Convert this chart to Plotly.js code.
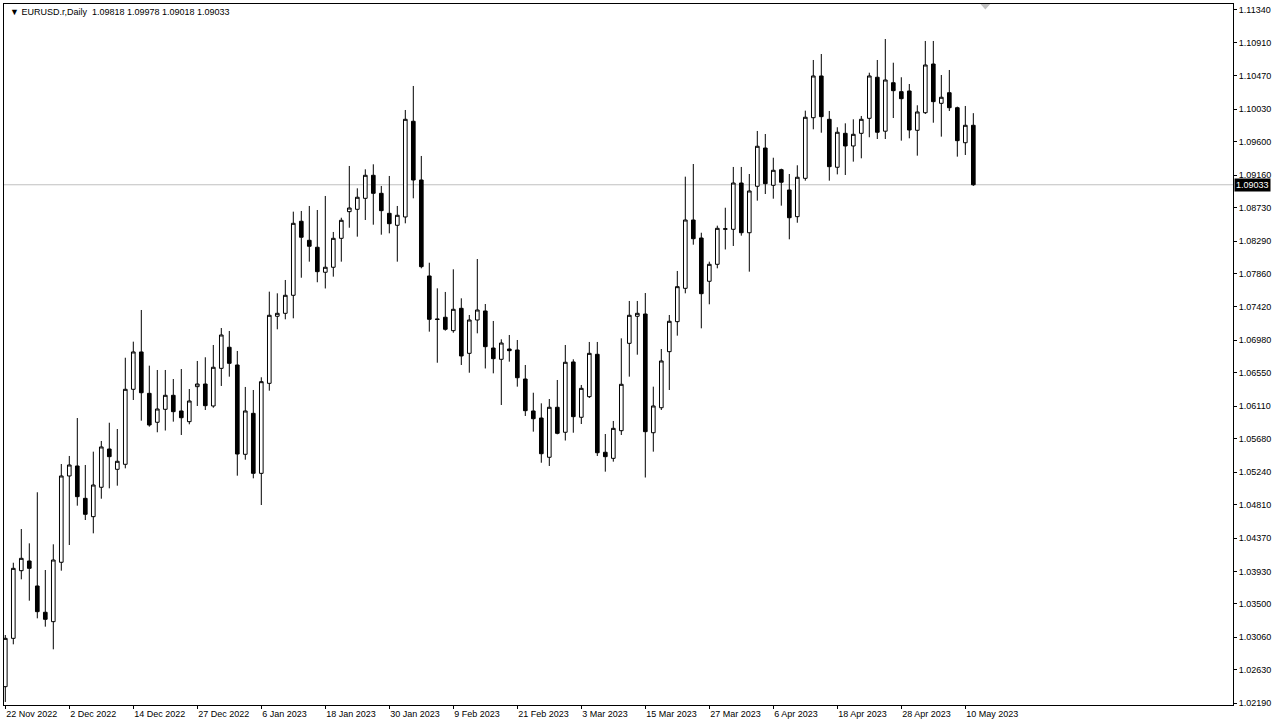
<!DOCTYPE html>
<html><head><meta charset="utf-8">
<script src="https://cdn.plot.ly/plotly-3.0.1.min.js"></script>
<style>html,body{margin:0;padding:0;background:#fff;}#chart{width:1280px;height:728px;}</style>
</head><body><div id="chart"></div>
<script>
const symbolTitle = "\u25BC EURUSD.r,Daily  1.09818 1.09978 1.09018 1.09033";

const dates = [
"2022-11-22","2022-11-23","2022-11-24","2022-11-25","2022-11-28","2022-11-29","2022-11-30","2022-12-01","2022-12-02",
"2022-12-05","2022-12-06","2022-12-07","2022-12-08","2022-12-09","2022-12-12","2022-12-13","2022-12-14","2022-12-15","2022-12-16",
"2022-12-19","2022-12-20","2022-12-21","2022-12-22","2022-12-23","2022-12-27","2022-12-28","2022-12-29","2022-12-30",
"2023-01-02","2023-01-03","2023-01-04","2023-01-05","2023-01-06","2023-01-09","2023-01-10","2023-01-11","2023-01-12","2023-01-13",
"2023-01-16","2023-01-17","2023-01-18","2023-01-19","2023-01-20","2023-01-23","2023-01-24","2023-01-25","2023-01-26","2023-01-27",
"2023-01-30","2023-01-31","2023-02-01","2023-02-02","2023-02-03","2023-02-06","2023-02-07","2023-02-08","2023-02-09","2023-02-10",
"2023-02-13","2023-02-14","2023-02-15","2023-02-16","2023-02-17","2023-02-20","2023-02-21","2023-02-22","2023-02-23","2023-02-24",
"2023-02-27","2023-02-28","2023-03-01","2023-03-02","2023-03-03","2023-03-06","2023-03-07","2023-03-08","2023-03-09","2023-03-10",
"2023-03-13","2023-03-14","2023-03-15","2023-03-16","2023-03-17","2023-03-20","2023-03-21","2023-03-22","2023-03-23","2023-03-24",
"2023-03-27","2023-03-28","2023-03-29","2023-03-30","2023-03-31","2023-04-03","2023-04-04","2023-04-05","2023-04-06","2023-04-07",
"2023-04-10","2023-04-11","2023-04-12","2023-04-13","2023-04-14","2023-04-17","2023-04-18","2023-04-19","2023-04-20","2023-04-21",
"2023-04-24","2023-04-25","2023-04-26","2023-04-27","2023-04-28","2023-05-01","2023-05-02","2023-05-03","2023-05-04","2023-05-05",
"2023-05-08","2023-05-09","2023-05-10","2023-05-11"
];

const openP = [
1.02408,1.03046,1.03939,1.04067,1.03737,1.03390,1.03266,1.04050,1.05189,1.05321,
1.04894,1.04652,1.05040,1.05545,1.05277,1.05343,1.06333,1.06826,1.06280,1.05898,
1.06069,1.06254,1.06047,1.05906,1.06368,1.06403,1.06113,1.06610,1.06888,1.06654,
1.05475,1.06016,1.05224,1.06412,1.07297,1.07336,1.07574,1.08551,1.08300,1.08208,
1.07878,1.07944,1.08326,1.08678,1.08709,1.08854,1.09158,1.08920,1.08656,1.08498,
1.08608,1.09871,1.09096,1.07829,1.07262,1.07284,1.07107,1.07402,1.06808,1.07248,
1.07367,1.06878,1.06729,1.06865,1.06852,1.06469,1.06047,1.05954,1.05436,1.06096,
1.05766,1.06694,1.05964,1.06236,1.06795,1.05502,1.05422,1.05787,1.06940,1.07297,
1.07327,1.05760,1.06090,1.06830,1.07226,1.07666,1.08568,1.08330,1.07759,1.07983,
1.08445,1.08445,1.09056,1.08400,1.09013,1.09518,1.09026,1.09232,1.08964,1.08612,
1.09118,1.09918,1.10469,1.09897,1.09264,1.09712,1.09545,1.09712,1.09910,1.10452,
1.09740,1.10380,1.10262,1.10271,1.09752,1.09984,1.10627,1.10108,1.10248,1.10050,
1.09588,1.09818
];

const highP = [
1.03090,1.04044,1.04489,1.04300,1.04974,1.03948,1.04287,1.05347,1.05453,1.05954,
1.05334,1.05510,1.05651,1.05892,1.05809,1.06750,1.06962,1.07380,1.06645,1.06588,
1.06588,1.06469,1.06601,1.06337,1.06707,1.06756,1.06918,1.07142,1.07103,1.06839,
1.06364,1.06324,1.06492,1.07622,1.07600,1.07776,1.08678,1.08687,1.08753,1.08700,
1.08885,1.08410,1.08598,1.09281,1.08986,1.09237,1.09303,1.09017,1.09149,1.08753,
1.10020,1.10337,1.09413,1.08004,1.07666,1.07618,1.07917,1.07534,1.07314,1.08053,
1.07459,1.07235,1.06993,1.07050,1.06984,1.06654,1.06288,1.06148,1.06205,1.06456,
1.06918,1.06729,1.06390,1.06958,1.06958,1.05743,1.05915,1.07006,1.07499,1.07499,
1.07604,1.06368,1.06865,1.07314,1.07895,1.09140,1.09307,1.08400,1.08018,1.08493,
1.08730,1.09268,1.09268,1.09175,1.09743,1.09703,1.09390,1.09245,1.09175,1.09290,
1.10011,1.10680,1.10759,1.10007,1.09792,1.09844,1.09897,1.09941,1.10512,1.10680,
1.10957,1.10644,1.10452,1.10363,1.10082,1.10931,1.10931,1.10482,1.10548,1.10064,
1.10073,1.09978
];

const lowP = [
1.02206,1.02967,1.03825,1.03543,1.03310,1.03200,1.02901,1.03939,1.04278,1.04797,
1.04608,1.04432,1.04889,1.05026,1.05061,1.05290,1.06192,1.05919,1.05840,1.05766,
1.05789,1.05906,1.05730,1.05871,1.06113,1.06060,1.06090,1.06377,1.06500,1.05193,
1.05404,1.05158,1.04806,1.06315,1.07125,1.07257,1.07270,1.07806,1.08018,1.07746,
1.07664,1.07820,1.08018,1.08466,1.08348,1.08568,1.08506,1.08374,1.08392,1.08018,
1.08524,1.08854,1.07930,1.07094,1.06684,1.07107,1.07080,1.06654,1.06552,1.07072,
1.06608,1.06544,1.06126,1.06698,1.06368,1.05981,1.05774,1.05364,1.05321,1.05739,
1.05657,1.05760,1.05875,1.06218,1.05453,1.05246,1.05378,1.05730,1.06500,1.06790,
1.05169,1.05510,1.06060,1.06324,1.07041,1.07600,1.08242,1.07138,1.07455,1.07930,
1.08179,1.08225,1.08361,1.07886,1.08823,1.08911,1.08849,1.08757,1.08313,1.08532,
1.09087,1.09765,1.09720,1.09087,1.09170,1.09162,1.09338,1.09382,1.09660,1.09637,
1.09637,1.09914,1.09615,1.09646,1.09417,1.09967,1.09852,1.09668,1.10007,1.09404,
1.09426,1.09018
];

const closeP = [
1.03046,1.03970,1.04102,1.03970,1.03398,1.03297,1.04080,1.05189,1.05334,1.04916,
1.04683,1.05070,1.05572,1.05444,1.05383,1.06333,1.06826,1.06288,1.05862,1.06073,
1.06254,1.06038,1.05958,1.06179,1.06403,1.06117,1.06624,1.07050,1.06676,1.05479,
1.06047,1.05224,1.06434,1.07310,1.07336,1.07574,1.08524,1.08340,1.08221,1.07886,
1.07944,1.08326,1.08564,1.08726,1.08868,1.09158,1.08920,1.08691,1.08519,1.08630,
1.09897,1.09096,1.07952,1.07257,1.07255,1.07125,1.07389,1.06773,1.07248,1.07380,
1.06896,1.06737,1.06944,1.06843,1.06486,1.06051,1.05945,1.05483,1.06096,1.05752,
1.06690,1.05972,1.06346,1.06808,1.05496,1.05444,1.05818,1.06399,1.07310,1.07336,
1.05774,1.06113,1.06707,1.07231,1.07688,1.08568,1.08321,1.07595,1.07983,1.08458,
1.08452,1.09056,1.08400,1.08951,1.09541,1.09047,1.09224,1.09066,1.08598,1.09132,
1.09924,1.10469,1.09932,1.09272,1.09726,1.09545,1.09699,1.09897,1.10469,1.09726,
1.10416,1.10275,1.10169,1.09756,1.09994,1.10614,1.10130,1.10188,1.10050,1.09615,
1.09818,1.09033
];

const xTickDates = ["2022-11-22","2022-12-02","2022-12-14","2022-12-27","2023-01-06","2023-01-18","2023-01-30","2023-02-09",
"2023-02-21","2023-03-03","2023-03-15","2023-03-27","2023-04-06","2023-04-18","2023-04-28","2023-05-10"];
const xTickLabels = ["22 Nov 2022","2 Dec 2022","14 Dec 2022","27 Dec 2022","6 Jan 2023","18 Jan 2023","30 Jan 2023","9 Feb 2023",
"21 Feb 2023","3 Mar 2023","15 Mar 2023","27 Mar 2023","6 Apr 2023","18 Apr 2023","28 Apr 2023","10 May 2023"];

const yTickVals = [1.02190,1.02630,1.03060,1.03500,1.03930,1.04370,1.04810,1.05240,1.05680,1.06110,1.06550,
1.06980,1.07420,1.07860,1.08290,1.08730,1.09160,1.09600,1.10030,1.10470,1.10910,1.11340];

const lastClose = closeP[closeP.length-1];
const FONT = "Tahoma, 'Liberation Sans', Arial, sans-serif";

const trace = {
  type: 'candlestick',
  x: dates, open: openP, high: highP, low: lowP, close: closeP,
  increasing: {line: {color: '#000', width: 1}, fillcolor: '#ffffff'},
  decreasing: {line: {color: '#000', width: 1}, fillcolor: '#000000'},
  whiskerwidth: 0,
  hoverinfo: 'skip'
};

const layout = {
  width: 1280, height: 728,
  margin: {l: 4, r: 47, t: 4, b: 23},
  paper_bgcolor: '#ffffff', plot_bgcolor: '#ffffff',
  showlegend: false,
  boxgap: 0.35,
  xaxis: {
    type: 'category',
    range: [-0.1625, 153.46],
    rangeslider: {visible: false},
    tickmode: 'array', tickvals: xTickDates, ticktext: xTickLabels,
    ticks: 'outside', ticklen: 3, tickcolor: '#000',
    ticklabelposition: 'outside right',
    tickfont: {family: FONT, size: 9, color: '#000'},
    showgrid: false, zeroline: false,
    showline: true, mirror: true, linecolor: '#000', linewidth: 1,
    fixedrange: true
  },
  yaxis: {
    side: 'right',
    range: [1.02166, 1.11419],
    tickmode: 'array', tickvals: yTickVals, ticktext: yTickVals.map(v => v.toFixed(5)),
    ticks: 'outside', ticklen: 3, tickcolor: '#000',
    tickfont: {family: FONT, size: 9, color: '#000'},
    showgrid: false, zeroline: false,
    showline: true, mirror: true, linecolor: '#000', linewidth: 1,
    fixedrange: true
  },
  shapes: [
    {type: 'line', xref: 'paper', x0: 0, x1: 1, yref: 'y', y0: lastClose, y1: lastClose,
     line: {color: '#c0c0c0', width: 1}, layer: 'below'},
    {type: 'path', xref: 'paper', yref: 'paper',
     path: 'M 0.7945 1.0 L 0.8025 1.0 L 0.7985 0.992 Z',
     fillcolor: '#c0c0c0', line: {width: 0}}
  ],
  annotations: [
    {xref: 'paper', yref: 'paper', x: 0.003, y: 0.998, xanchor: 'left', yanchor: 'top',
     text: symbolTitle, showarrow: false, font: {family: FONT, size: 9, color: '#000'}},
    {xref: 'paper', yref: 'y', x: 1, y: lastClose, xanchor: 'left', yanchor: 'middle',
     text: lastClose.toFixed(5), showarrow: false, bgcolor: '#000', borderpad: 1,
     font: {family: FONT, size: 9, color: '#fff'}, xshift: 1}
  ]
};

Plotly.newPlot('chart', [trace], layout, {staticPlot: true, displayModeBar: false});
</script>
</body></html>
